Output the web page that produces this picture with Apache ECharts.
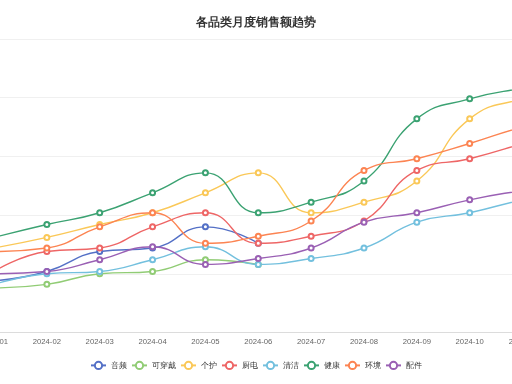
<!DOCTYPE html>
<html>
<head>
<meta charset="utf-8">
<script src="https://cdn.jsdelivr.net/npm/echarts@6/dist/echarts.min.js"></script>
<style>
  html, body { margin: 0; padding: 0; background: #fff; }
  #main { width: 512px; height: 384px; }
</style>
</head>
<body>
<div id="main"></div>
<script>
// 月份
const months = ['2024-01', '2024-02', '2024-03', '2024-04', '2024-05', '2024-06',
  '2024-07', '2024-08', '2024-09', '2024-10', '2024-11', '2024-12']

// 各品类销售额
const audio = [44, 52, 69, 72, 90, 76, null, null, null, null, null, null]
const wearable = [38, 41, 50, 52, 62, 58, null, null, null, null, null, null]
const personalCare = [72, 81, 92, 102, 119, 136, 102, 111, 129, 182, 199, 208]
const kitchen = [52, 69, 72, 90, 102, 76, 82, 95, 138, 148, 161, 175]
const cleaning = [41, 50, 52, 62, 73, 58, 63, 72, 94, 102, 113, 121]
const health = [81, 92, 102, 119, 136, 102, 111, 129, 182, 199, 208, 215]
const environment = [69, 72, 90, 102, 76, 82, 95, 138, 148, 161, 175, 185]
const accessory = [50, 52, 62, 73, 58, 63, 72, 94, 102, 113, 121, 128]

const names = ['音频', '可穿戴', '个护', '厨电', '清洁', '健康', '环境', '配件']
const values = [audio, wearable, personalCare, kitchen, cleaning, health, environment, accessory]
const colors = ['#5470c6', '#91cc75', '#fac858', '#ee6666', '#73c0de', '#3ba272', '#fc8452', '#9a60b4']

const chart = echarts.init(document.getElementById('main'))

const series = names.map((name, i) => ({
  name: name,
  type: 'line',
  smooth: true,
  symbol: 'emptyCircle',
  symbolSize: 5,
  itemStyle: { borderWidth: 1 },
  lineStyle: { width: 1.4 },
  data: values[i]
}))

chart.setOption({
  color: colors,
  animation: false,
  title: {
    text: '各品类月度销售额趋势',
    left: 'center',
    top: 12,
    textStyle: { fontSize: 11.5, fontWeight: 'bold', color: '#333' }
  },
  legend: {
    data: names,
    bottom: 9,
    itemWidth: 15,
    itemHeight: 9,
    itemGap: 4,
    textStyle: { fontSize: 7.7, color: '#333' }
  },
  grid: {
    top: 39,
    bottom: 51.5,
    left: -6,
    right: -63.4,
    outerBoundsMode: 'none',
    containLabel: false
  },
  xAxis: {
    type: 'category',
    boundaryGap: false,
    data: months,
    axisTick: { show: false },
    axisLine: { lineStyle: { color: '#dcdcdc' } },
    axisLabel: { interval: 0, fontSize: 7.7, color: '#666', margin: 5 }
  },
  yAxis: {
    type: 'value',
    min: 0,
    max: 250,
    interval: 50,
    axisLabel: { show: false },
    axisLine: { show: false },
    axisTick: { show: false },
    splitLine: { lineStyle: { color: '#f0f0f0' } }
  },
  series: series
})
</script>
</body>
</html>
